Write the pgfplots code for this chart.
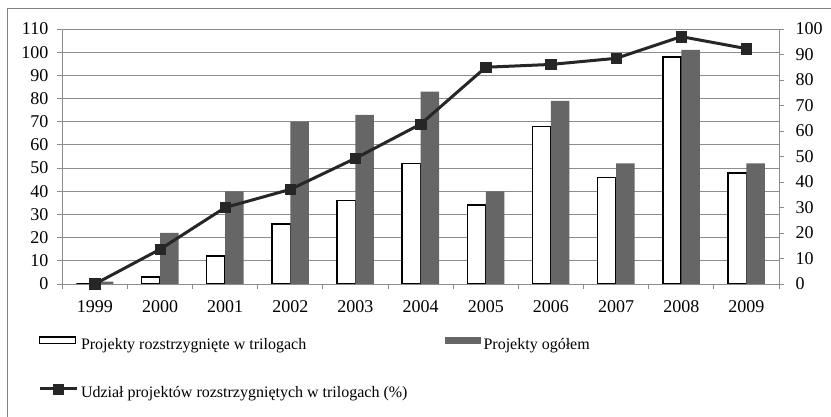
\documentclass[border=0pt]{standalone}
\usepackage{fontspec}
\setmainfont{Liberation Serif}
\usepackage{pgfplots}
\pgfplotsset{compat=1.18}
\definecolor{gridc}{RGB}{140,140,140}
\definecolor{barg}{RGB}{102,102,102}
\definecolor{linec}{RGB}{38,38,38}
\definecolor{framec}{RGB}{130,130,130}

\begin{document}
\begin{tikzpicture}[x=1pt,y=1pt]
\path[use as bounding box] (0,0) rectangle (831,417);
\draw[framec,line width=1pt] (7.5,0) -- (7.5,408.5) -- (831,408.5);
\pgfplotsset{
  base/.style={
    at={(62.3pt,133pt)}, anchor=south west, scale only axis,
    width=716.7pt, height=255pt, xmin=-0.5, xmax=10.5,
    tick align=outside, major tick length=5pt,
    tick style={gridc, line width=0.9pt},
    axis line style={gridc, line width=0.9pt, -},
    /pgf/number format/assume math mode=true,
    tick label style={font=\fontsize{18}{20}\selectfont},
  }
}
\begin{axis}[base,
  ymin=0, ymax=110, ytick={0,10,...,110},
  axis y line*=left, axis x line*=bottom,
  xtick={-0.5,0.5,...,10.5},
  x tick label as interval,
  xticklabels={1999,2000,2001,2002,2003,2004,2005,2006,2007,2008,2009},
  xticklabel style={yshift=-8pt},
  yticklabel style={xshift=-5.5pt},
  ymajorgrids, major grid style={gridc, line width=0.9pt},
  legend columns=2,
  legend cell align=left,
  legend style={at={(axis description cs:-0.0339,-0.205)}, anchor=north west,
    draw=none, fill=none, inner sep=0pt, outer sep=0pt,
    font=\fontsize{16}{19}\selectfont,
    row sep=30.7pt,
    nodes={inner sep=0pt, text height=12pt, text depth=4pt},
    /tikz/every odd column/.append style={column sep=3pt},
    /tikz/every even column/.append style={column sep=37pt}},
]
\addplot[ybar, bar width=18.5pt, bar shift=-9.25pt, fill=white, draw=black, line width=1.6pt,
  legend image code/.code={\draw[fill=white,draw=black,line width=1.5pt] (0pt,1.5pt) rectangle (36pt,8pt);}]
  coordinates {(0,0) (1,3) (2,12) (3,26) (4,36) (5,52) (6,34) (7,68) (8,46) (9,98) (10,48)};
\addlegendentry{Projekty rozstrzygnięte w trilogach}
\addplot[ybar, bar width=18.5pt, bar shift=9.25pt, fill=barg, draw=none,
  legend image code/.code={\fill[barg] (0pt,1pt) rectangle (36pt,8.5pt);}]
  coordinates {(0,1) (1,22) (2,40) (3,70) (4,73) (5,83) (6,40) (7,79) (8,52) (9,101) (10,52)};
\addlegendentry{Projekty ogółem}
\addlegendimage{legend image code/.code={\draw[linec,line width=3pt] (0pt,4.5pt) -- (37pt,4.5pt); \fill[linec] (14pt,-0.5pt) rectangle (23.5pt,9.5pt);}}
\addlegendentry{Udział projektów rozstrzygniętych w trilogach (\%)}
\end{axis}
\begin{axis}[base,
  ymin=0, ymax=100, ytick={0,10,...,100},
  axis y line*=right, axis x line=none,
  yticklabel style={xshift=8pt},
]
\addplot[linec, line width=3pt, mark=square*, mark size=5.25pt, mark options={solid, line width=0.5pt}]
  coordinates {(0,0) (1,13.6) (2,30) (3,37.1) (4,49.3) (5,62.7) (6,85) (7,86.1) (8,88.5) (9,97) (10,92.3)};
\end{axis}
\end{tikzpicture}
\end{document}
